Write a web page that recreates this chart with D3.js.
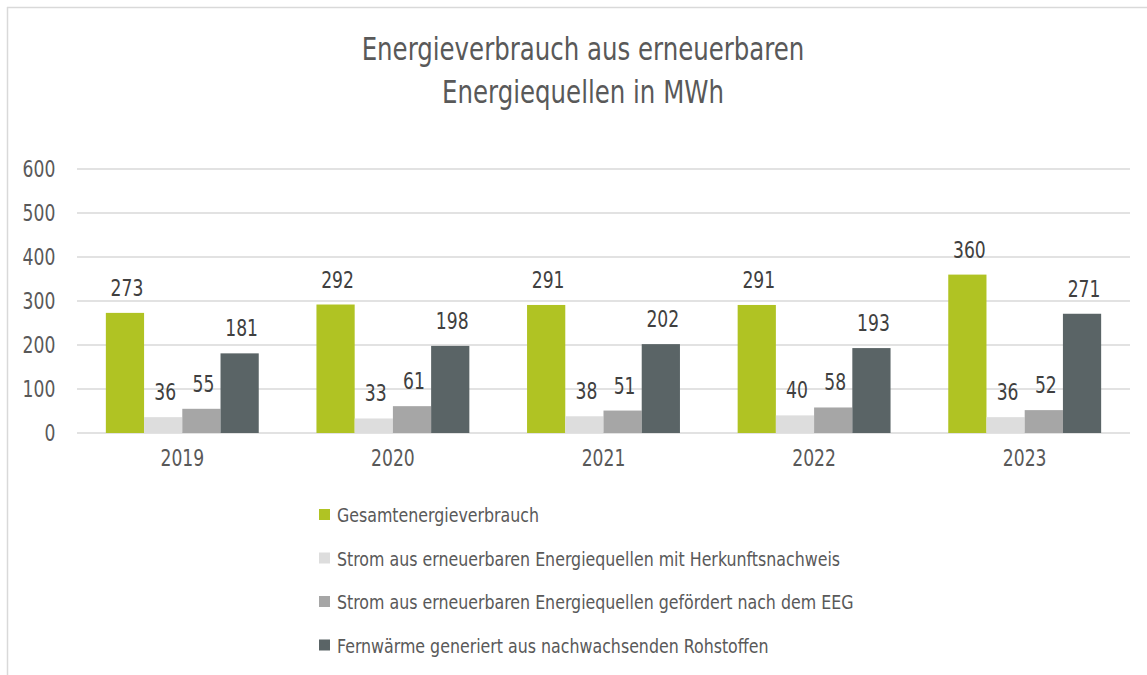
<!DOCTYPE html>
<html>
<head>
<meta charset="utf-8">
<script src="https://cdn.jsdelivr.net/npm/d3@7"></script>
<style>
	body { margin: 0; background: #fff; }
	svg text { font-family: "Liberation Sans Narrow", "DejaVu Sans Condensed", "Roboto", sans-serif; fill: #595959; }
</style>
</head>
<body>
<svg id="chart" width="1147" height="675"></svg>
<script>
(function() {

	// DATA
	var years = ['2019', '2020', '2021', '2022', '2023'];
	var seriesNames = [
		'Gesamtenergieverbrauch',
		'Strom aus erneuerbaren Energiequellen mit Herkunftsnachweis',
		'Strom aus erneuerbaren Energiequellen gefördert nach dem EEG',
		'Fernwärme generiert aus nachwachsenden Rohstoffen'
	];
	var gesamt = [273, 292, 291, 291, 360];
	var herkunft = [36, 33, 38, 40, 36];
	var eeg = [55, 61, 51, 58, 52];
	var fernwaerme = [181, 198, 202, 193, 271];
	var yTicks = [0, 100, 200, 300, 400, 500, 600];
	var colors = ['#b0c323', '#dddddd', '#a6a6a6', '#5a6466'];

	var series = [gesamt, herkunft, eeg, fernwaerme];

	// the original font is very narrow, squeeze the text horizontally
	var squeeze = 'scale(0.83,1)';

	var svg = d3.select('#chart');

	// frame (only top and left edge are in view)
	svg.append('line').attr('x1', 7).attr('x2', 1147).attr('y1', 7.5).attr('y2', 7.5)
		.attr('stroke', '#d9d9d9').attr('stroke-width', 1.5);
	svg.append('line').attr('x1', 7.5).attr('x2', 7.5).attr('y1', 7).attr('y2', 675)
		.attr('stroke', '#d9d9d9').attr('stroke-width', 1.5);

	// title
	var title = svg.append('g')
		.attr('transform', 'translate(583,0) scale(0.85,1)')
		.append('text')
		.attr('text-anchor', 'middle')
		.style('font-size', '32px');
	title.append('tspan').attr('x', 0).attr('y', 60).text('Energieverbrauch aus erneuerbaren');
	title.append('tspan').attr('x', 0).attr('y', 103).text('Energiequellen in MWh');

	// scales
	var x0 = d3.scaleBand()
		.domain(years)
		.range([77, 1130])
		.paddingInner(0.274)
		.paddingOuter(0.137);

	var x1 = d3.scaleBand()
		.domain(d3.range(series.length))
		.range([0, x0.bandwidth()]);

	var y = d3.scaleLinear()
		.domain([0, 600])
		.range([433, 169]);

	// gridlines
	svg.append('g')
		.selectAll('line')
		.data(yTicks)
		.enter()
		.append('line')
			.attr('x1', 77)
			.attr('x2', 1130)
			.attr('y1', function(d) { return y(d); })
			.attr('y2', function(d) { return y(d); })
			.attr('stroke', '#d9d9d9')
			.attr('stroke-width', 1.5);

	// y axis
	var yaxis = svg.append('g')
		.attr('class', 'axis axis--y')
		.attr('transform', 'translate(62,0)')
		.call(d3.axisLeft(y).tickValues(yTicks).tickSize(0).tickPadding(8));
	yaxis.select('.domain').remove();
	yaxis.selectAll('text')
		.attr('transform', squeeze)
		.style('font-size', '23px')
		.style('fill', '#595959');

	// x axis
	var xaxis = svg.append('g')
		.attr('class', 'axis axis--x')
		.attr('transform', 'translate(0,433)')
		.call(d3.axisBottom(x0).tickSize(0).tickPadding(17));
	xaxis.select('.domain').remove();
	xaxis.selectAll('text')
		.attr('transform', squeeze)
		.style('font-size', '23px')
		.style('fill', '#595959');

	// bars
	var groups = svg.append('g')
		.selectAll('.group')
		.data(years)
		.enter()
		.append('g')
			.attr('class', 'group')
			.attr('transform', function(d) { return 'translate(' + x0(d) + ',0)'; });

	function rows(d, i) {
		return series.map(function(s, k) { return { k: k, v: s[i] }; });
	}

	groups.selectAll('rect')
		.data(rows)
		.enter()
		.append('rect')
			.attr('x', function(d) { return x1(d.k); })
			.attr('width', x1.bandwidth())
			.attr('y', function(d) { return y(d.v); })
			.attr('height', function(d) { return y(0) - y(d.v); })
			.attr('fill', function(d) { return colors[d.k]; });

	groups.selectAll('.label')
		.data(rows)
		.enter()
		.append('text')
			.attr('class', 'label')
			.attr('transform', function(d) {
				return 'translate(' + (x1(d.k) + x1.bandwidth() / 2 + 2) + ',' + (y(d.v) - 17) + ') ' + squeeze;
			})
			.attr('text-anchor', 'middle')
			.style('font-size', '23px')
			.style('fill', '#404040')
			.text(function(d) { return d.v; });

	// legend
	var legend = svg.append('g')
		.selectAll('.legend')
		.data(seriesNames)
		.enter()
		.append('g')
			.attr('class', 'legend')
			.attr('transform', function(d, i) { return 'translate(319,' + (515 + i * 43.5) + ')'; });

	legend.append('rect')
		.attr('x', 0)
		.attr('y', -6)
		.attr('width', 11)
		.attr('height', 11)
		.attr('fill', function(d, i) { return colors[i]; });

	legend.append('text')
		.attr('transform', 'translate(18,7) scale(0.88,1)')
		.style('font-size', '20px')
		.text(function(d) { return d; });

})()
</script>
</body>
</html>
